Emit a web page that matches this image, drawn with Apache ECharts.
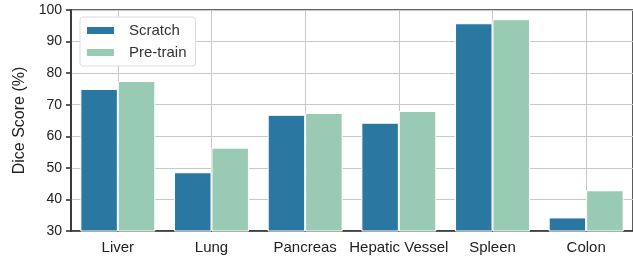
<!DOCTYPE html>
<html>
<head>
<meta charset="utf-8">
<script src="https://cdn.jsdelivr.net/npm/echarts@6/dist/echarts.min.js"></script>
<style>
  html, body { margin: 0; padding: 0; background: #fff; }
  #main { width: 633px; height: 262px; }
</style>
</head>
<body>
<div id="main"></div>
<script>
var categories = ['Liver', 'Lung', 'Pancreas', 'Hepatic Vessel', 'Spleen', 'Colon'];
var scratch = [75.0, 48.6, 66.8, 64.3, 95.8, 34.3];
var pretrain = [77.5, 56.4, 67.4, 68.0, 97.1, 42.9];
var yTicks = [30, 100, 10];

var font = '"Liberation Sans", Arial, sans-serif';
var axisColor = '#333';
var gridColor = '#c8c8c8';

var chart = echarts.init(document.getElementById('main'));
chart.setOption({
    backgroundColor: '#fff',
    animation: false,
    textStyle: {fontFamily: font},
    grid: {
        left: 71,
        right: -1,
        top: 10,
        bottom: 31,
        show: true,
        borderColor: axisColor,
        borderWidth: 1.6
    },
    legend: {
        orient: 'vertical',
        left: 80,
        top: 17,
        padding: [6, 9, 6, 5],
        itemGap: 7,
        itemWidth: 29,
        itemHeight: 9,
        icon: 'rect',
        backgroundColor: '#fff',
        borderColor: '#dddddd',
        borderWidth: 1,
        borderRadius: 3,
        textStyle: {fontSize: 15, color: '#333', fontFamily: font, padding: [0, 0, 0, 9]},
        data: ['Scratch', 'Pre-train']
    },
    xAxis: {
        type: 'category',
        data: categories,
        axisLine: {lineStyle: {color: axisColor, width: 1.6}},
        axisTick: {interval: 0, alignWithLabel: true, length: 5, lineStyle: {color: axisColor, width: 1.6}},
        axisLabel: {interval: 0, fontSize: 15, color: '#222', margin: 9, fontFamily: font},
        splitLine: {show: true, interval: 0, alignWithLabel: true, lineStyle: {color: gridColor, width: 1}}
    },
    yAxis: {
        type: 'value',
        min: yTicks[0],
        max: yTicks[1],
        interval: yTicks[2],
        name: 'Dice Score (%)',
        nameLocation: 'middle',
        nameGap: 43,
        nameTextStyle: {fontSize: 16, color: '#222', fontFamily: font},
        axisLine: {show: true, lineStyle: {color: axisColor, width: 1.6}},
        axisTick: {show: true, length: 5, lineStyle: {color: axisColor, width: 1.6}},
        axisLabel: {fontSize: 14, color: '#222', margin: 9, fontFamily: font},
        splitLine: {show: true, lineStyle: {color: gridColor, width: 1}}
    },
    series: [
        {
            name: 'Scratch',
            type: 'bar',
            data: scratch,
            barGap: '0%',
            barCategoryGap: '20%',
            itemStyle: {color: '#2a77a1', borderColor: '#fff', borderWidth: 1}
        },
        {
            name: 'Pre-train',
            type: 'bar',
            data: pretrain,
            itemStyle: {color: '#99cbb4', borderColor: '#fff', borderWidth: 1}
        }
    ]
});
</script>
</body>
</html>
